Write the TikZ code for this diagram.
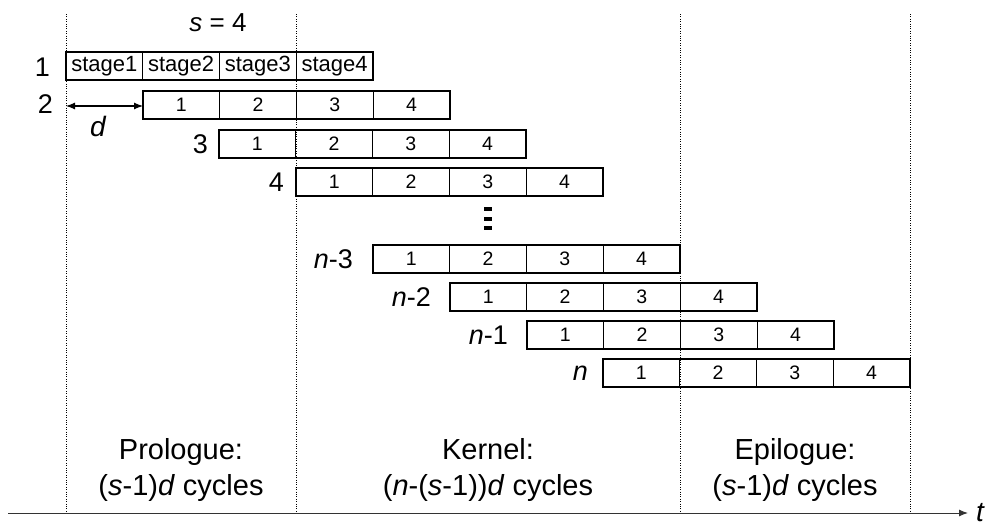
\documentclass[tikz,border=0pt]{standalone}
\usepackage{fontspec}
\setmainfont{Liberation Sans}
\usetikzlibrary{arrows.meta}
\newcommand{\fsz}[1]{\fontsize{#1}{#1}\selectfont}

\begin{document}
\begin{tikzpicture}[x=1pt,y=-1pt,
  cell/.style={draw, line width=0.7pt, minimum width=76.75pt, minimum height=28pt,
               inner sep=0pt, outer sep=0pt, font=\fsz{19.5}},
  stagecell/.style={cell, font=\fsz{22}},
  frame/.style={line width=1.7pt},
  rowlabel/.style={font=\fsz{27}, inner sep=0pt, anchor=east},
  phase/.style={font=\fsz{29}, inner sep=0pt, anchor=base},
  boundary/.style={line width=0.9pt, dash pattern=on 1pt off 1.4pt, black},
  vdot/.style={fill=black, draw=none},
]
\useasboundingbox (0,0) rectangle (989,525);

% phase boundaries
\foreach \bx [count=\k] in {66,296,680,910} {
  \coordinate (top\k) at (\bx,14);
  \coordinate (bot\k) at (\bx,511);
  \draw[boundary] (top\k) -- (bot\k);
}

% time axis
\coordinate (t0) at (8,513);
\coordinate (t1) at (968,513);
\draw[line width=1pt, black!80, -{Latex[length=9pt,width=7pt]}] (t0) -- (t1);
\node[font=\fsz{28}\itshape, anchor=base, inner sep=0pt] (tlab) at (980,521) {t};

% number of stages
\node[font=\fsz{26}, anchor=base, inner sep=0pt] (stages) at (218,31) {\textit{s} = 4};

% iteration 1: named stages
\foreach \j in {1,...,4}
  \node[stagecell] (r1-\j) at (66+76.75*\j-38.375,66) {stage\j};
\draw[frame] (r1-1.north west) rectangle (r1-4.south east);
\node[rowlabel] (l1) at (50,67) {1};

% later iterations, each shifted by d
\foreach \r/\xo/\yc in {2/143/105, 3/219/144, 4/296/182, n3/373/259,
                        n2/450/297, n1/527/335, n/603/373} {
  \foreach \j in {1,...,4}
    \node[cell] (r\r-\j) at (\xo+76.75*\j-38.375,\yc) {\j};
  \draw[frame] (r\r-1.north west) rectangle (r\r-4.south east);
}

\node[rowlabel] (l2) at (53,104) {2};
\node[rowlabel] (l3) at (208,144) {3};
\node[rowlabel] (l4) at (284,182) {4};
\node[rowlabel] (ln3) at (353,259) {\textit{n}-3};
\node[rowlabel] (ln2) at (431,297) {\textit{n}-2};
\node[rowlabel] (ln1) at (508,335) {\textit{n}-1};
\node[rowlabel] (ln) at (588,373) {\textit{n}};

% initiation interval d
\coordinate (dstart) at (66,106);
\draw[line width=1.1pt, {Latex[length=9pt,width=7pt]}-{Latex[length=9pt,width=7pt]}]
  (dstart) -- (r2-1.west |- dstart);
\node[font=\fsz{28}\itshape, inner sep=0pt] (dlab) at (98,126) {d};

% elided iterations
\fill[vdot] (484,206.5) rectangle (492,210.5);
\fill[vdot] (484,216.5) rectangle (492,220.5);
\fill[vdot] (484,226) rectangle (492,230);

% phase captions
\node[phase] (pro1) at (181,459) {Prologue:};
\node[phase] (pro2) at (181,495) {(\textit{s}-1)\textit{d} cycles};
\node[phase] (ker1) at (488,459) {Kernel:};
\node[phase] (ker2) at (488,495) {(\textit{n}-(\textit{s}-1))\textit{d} cycles};
\node[phase] (epi1) at (795,459) {Epilogue:};
\node[phase] (epi2) at (795,495) {(\textit{s}-1)\textit{d} cycles};
\end{tikzpicture}
\end{document}
